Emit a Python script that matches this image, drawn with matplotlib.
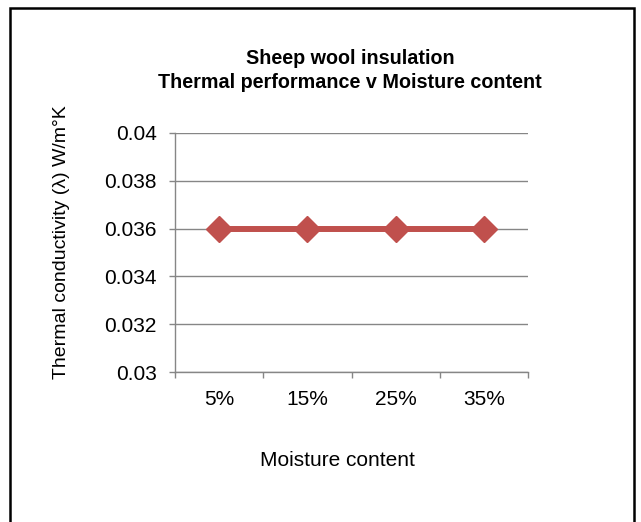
import numpy as np
import matplotlib
matplotlib.use("Agg")
import matplotlib.pyplot as plt
import matplotlib.patches as patches

plt.rcParams['font.family'] = ['Liberation Sans', 'DejaVu Sans']

categories = ["5%", "15%", "25%", "35%"]
conductivity = [0.036, 0.036, 0.036, 0.036]
y_ticks = [0.03, 0.032, 0.034, 0.036, 0.038, 0.04]
y_tick_labels = ["0.03", "0.032", "0.034", "0.036", "0.038", "0.04"]

W, H = 641, 522
fig = plt.figure(figsize=(W / 100, H / 100), dpi=100)
ax = fig.add_axes([175 / W, 1 - 372 / H, 353 / W, 239 / H])

x = np.arange(len(categories))
ax.plot(x, conductivity, color="#C0504D", linewidth=4.3, marker="D",
        markersize=13.5, markerfacecolor="#C0504D", markeredgecolor="#C0504D",
        zorder=3)

grey = "#868686"
ax.set_xlim(-0.5, len(categories) - 0.5)
ax.set_ylim(0.03, 0.04)
ax.set_yticks(y_ticks)
ax.set_yticklabels(y_tick_labels)
ax.set_xticks(x)
ax.set_xticklabels(categories)
ax.set_xticks(np.arange(len(categories) + 1) - 0.5, minor=True)
ax.tick_params(axis="x", which="major", length=0, pad=13, labelsize=15)
ax.tick_params(axis="x", which="minor", length=4.5, color=grey, width=1)
ax.tick_params(axis="y", length=4.5, color=grey, width=1, labelsize=15, pad=8.5)
ax.grid(axis="y", color=grey, linewidth=1)
ax.set_axisbelow(True)
for s in ["top", "right"]:
    ax.spines[s].set_visible(False)
for s in ["left", "bottom"]:
    ax.spines[s].set_color(grey)
    ax.spines[s].set_linewidth(1)

fig.text(350 / W, 1 - 59 / H, "Sheep wool insulation", ha="center", va="center",
         fontsize=14.2, fontweight="bold")
fig.text(350 / W, 1 - 83 / H, "Thermal performance v Moisture content",
         ha="center", va="center", fontsize=14.2, fontweight="bold")
fig.text(62 / W, 1 - 242 / H, "Thermal conductivity (λ) W/m°K", rotation=90,
         ha="center", va="center", fontsize=14)
fig.text(337 / W, 1 - 460 / H, "Moisture content", ha="center", va="center",
         fontsize=15)

border = patches.Rectangle((10 / W, -0.05), 624 / W, 1 - 8 / H + 0.05,
                           transform=fig.transFigure, fill=False,
                           edgecolor="black", linewidth=1.8)
fig.patches.append(border)

fig.savefig("out.png", dpi=100)
